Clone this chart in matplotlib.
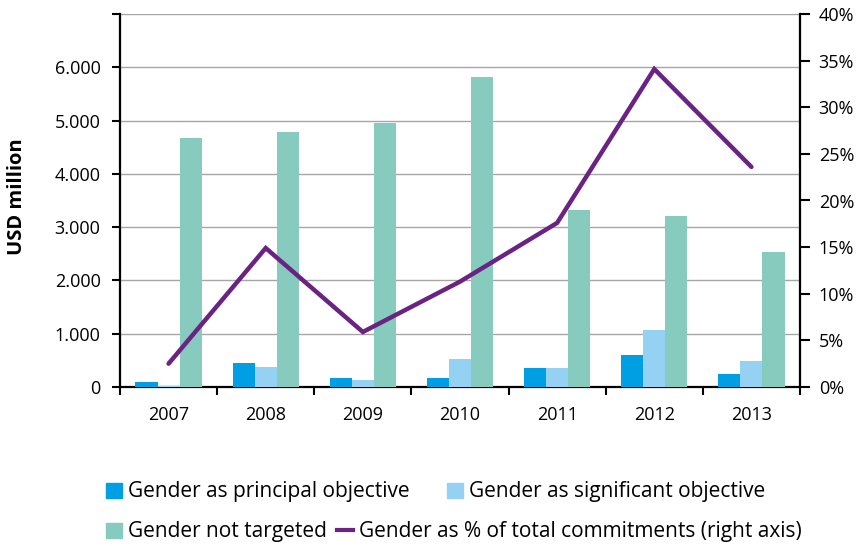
import matplotlib
matplotlib.use("Agg")
import matplotlib.pyplot as plt
import numpy as np
from matplotlib.lines import Line2D
from matplotlib.patches import Patch
from matplotlib.ticker import FuncFormatter

plt.rcParams['font.family'] = ['Open Sans', 'DejaVu Sans']

years = ['2007', '2008', '2009', '2010', '2011', '2012', '2013']
principal = [95, 456, 171, 171, 348, 601, 240]
significant = [15, 380, 133, 532, 348, 1070, 494]
not_targeted = [4670, 4784, 4953, 5816, 3321, 3208, 2533]
pct_total = [2.5, 14.9, 5.9, 11.3, 17.6, 34.1, 23.6]

c_principal = '#009FE3'
c_significant = '#94D1F3'
c_not = '#87CBBF'
c_line = '#6A2383'

fig = plt.figure(figsize=(8.62, 5.46), dpi=100)
ax = fig.add_axes([120/862, 1-387/546, 680/862, 373/546])
x = np.arange(len(years))
w = 0.227
ax.bar(x - w, principal, w, color=c_principal, zorder=3)
ax.bar(x, significant, w, color=c_significant, zorder=3)
ax.bar(x + w, not_targeted, w, color=c_not, zorder=3)

ax.set_xlim(-0.5, len(years) - 0.5)
ax.set_ylim(0, 7000)
ax.set_yticks(np.arange(0, 7001, 1000))
ax.yaxis.set_major_formatter(FuncFormatter(lambda v, p: '' if v >= 7000 else ('0' if v == 0 else f'{int(v):,}'.replace(',', '.'))))
ax.grid(axis='y', color='#A6A6A6', linewidth=1.0, zorder=0)
ax.set_xticks(x)
ax.set_xticklabels(years)
ax.set_xticks(np.arange(-0.5, len(years)), minor=True)
ax.tick_params(axis='x', which='major', length=0, pad=14, labelsize=13)
ax.tick_params(axis='x', which='minor', length=6, width=1.5, direction='out')
ax.tick_params(axis='y', length=6, width=1.5, direction='out', labelsize=13, pad=8)
for s in ['top', 'right']:
    ax.spines[s].set_visible(False)
for s in ['left', 'bottom']:
    ax.spines[s].set_linewidth(1.6)
ax.set_ylabel('USD million', fontsize=14.5, fontweight='bold')
ax.yaxis.set_label_coords(-0.137, 0.51)

ax2 = ax.twinx()
ax2.plot(x, pct_total, color=c_line, linewidth=3.2, solid_capstyle='round', solid_joinstyle='miter', zorder=5)
ax2.set_ylim(0, 40)
ax2.set_yticks(np.arange(0, 41, 5))
ax2.yaxis.set_major_formatter(FuncFormatter(lambda v, p: f'{int(v)}%'))
ax2.tick_params(axis='y', length=7.5, width=1.5, direction='out', labelsize=13, pad=6)
for s in ['top', 'left', 'bottom']:
    ax2.spines[s].set_visible(False)
ax2.spines['right'].set_linewidth(1.6)

h1 = [Patch(color=c_principal, label='Gender as principal objective'),
      Patch(color=c_significant, label='Gender as significant objective')]
h2 = [Patch(color=c_not, label='Gender not targeted'),
      Line2D([0], [0], color=c_line, linewidth=3, label='Gender as % of total commitments (right axis)')]
leg_kw = dict(frameon=False, fontsize=15, handlelength=0.75, handleheight=0.75,
              handletextpad=0.3, borderaxespad=0, borderpad=0)
l1 = fig.legend(handles=h1, ncol=2, loc='center left', columnspacing=1.8,
                bbox_to_anchor=(106/862, 1-492/546), **leg_kw)
l2 = fig.legend(handles=h2, ncol=2, loc='center left', columnspacing=0.5,
                bbox_to_anchor=(106/862, 1-532/546), **leg_kw)

fig.savefig('out.png', dpi=100)
